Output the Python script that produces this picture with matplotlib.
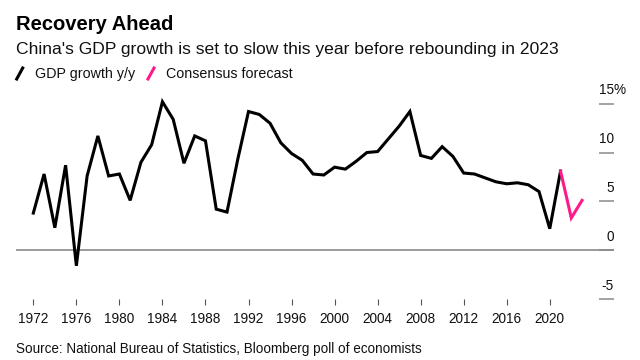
import matplotlib
matplotlib.use("Agg")
import matplotlib.pyplot as plt
from matplotlib.lines import Line2D
import matplotlib.transforms as mtransforms

plt.rcParams['font.family'] = ['Liberation Sans', 'DejaVu Sans']

# ---- data ----
years = list(range(1972, 2022))
gdp_growth = [3.8, 7.8, 2.3, 8.7, -1.6, 7.6, 11.7, 7.6, 7.8, 5.1,
              9.0, 10.8, 15.2, 13.4, 8.9, 11.7, 11.2, 4.2, 3.9, 9.3,
              14.2, 13.9, 13.0, 11.0, 9.9, 9.2, 7.8, 7.7, 8.5, 8.3,
              9.1, 10.0, 10.1, 11.4, 12.7, 14.2, 9.7, 9.4, 10.6, 9.6,
              7.9, 7.8, 7.4, 7.0, 6.8, 6.9, 6.7, 6.0, 2.2, 8.1]
forecast_years = [2021, 2022, 2023]
forecast_values = [8.1, 3.3, 5.1]
x_ticks = list(range(1972, 2021, 4))
y_ticks = [-5, 0, 5, 10, 15]
y_tick_labels = ["-5", "0", "5", "10", "15"]

title = "Recovery Ahead"
subtitle = "China's GDP growth is set to slow this year before rebounding in 2023"
legend_labels = ["GDP growth y/y", "Consensus forecast"]
source = "Source: National Bureau of Statistics, Bloomberg poll of economists"

BLACK = "#000000"
PINK = "#ff1a8c"
GREY = "#8a8a8a"

W, H = 640, 360
fig = plt.figure(figsize=(6.4, 3.6), dpi=100)

def px(x, y):
    return x / W, 1 - y / H

left, right = 16, 614
top, bottom = 103.7, 299
ax = fig.add_axes([left / W, 1 - bottom / H, (right - left) / W, (bottom - top) / H])

ax.plot(years, gdp_growth, color=BLACK, lw=2.2, clip_on=False,
        solid_joinstyle='miter', zorder=3)
ax.plot(forecast_years, forecast_values, color=PINK, lw=2.2, clip_on=False,
        solid_joinstyle='miter', zorder=3)
ax.axhline(0, color=GREY, lw=1.2, zorder=1)

ax.set_xlim(1970.39, 2025.97)
ax.set_ylim(-5, 15)
for s in ax.spines.values():
    s.set_visible(False)

ax.set_xticks(x_ticks)
ax.set_xticklabels([str(y) for y in x_ticks])
ax.tick_params(axis='x', direction='out', length=4.3, width=0.8, color="#555555",
               pad=5, labelsize=9.8, labelcolor="#111111")

ax.yaxis.tick_right()
ax.set_yticks(y_ticks)
ax.tick_params(axis='y', direction='in', length=10.8, width=1.1, color=GREY,
               labelright=False, labelleft=False)

trans = mtransforms.blended_transform_factory(ax.transAxes, ax.transData)
for v, lab in zip(y_ticks, y_tick_labels):
    ax.annotate(lab, xy=(1.0, v), xycoords=trans, xytext=(0, 4.5),
                textcoords='offset points', ha='right', va='bottom',
                fontsize=9.8, color="#111111", annotation_clip=False)
    if v == max(y_ticks):
        ax.annotate("%", xy=(1.0, v), xycoords=trans, xytext=(0, 4.5),
                    textcoords='offset points', ha='left', va='bottom',
                    fontsize=9.8, color="#111111", annotation_clip=False)

# ---- header ----
fig.text(*px(16, 30), title, fontsize=14.5, fontweight='bold', ha='left',
         va='baseline', color="#000000")
fig.text(*px(16, 54), subtitle, fontsize=12.6, ha='left', va='baseline',
         color="#111111")

# legend
fig.add_artist(Line2D([16.7 / W, 22.7 / W], [1 - 79 / H, 1 - 68 / H],
                      color=BLACK, lw=2.2, transform=fig.transFigure))
fig.text(*px(35, 78), legend_labels[0], fontsize=10.3, ha='left', va='baseline',
         color="#111111")
fig.add_artist(Line2D([148 / W, 154 / W], [1 - 79 / H, 1 - 68 / H],
                      color=PINK, lw=2.2, transform=fig.transFigure))
fig.text(*px(166, 78), legend_labels[1], fontsize=10.3, ha='left', va='baseline',
         color="#111111")

fig.text(*px(16, 353), source, fontsize=9.75, ha='left', va='baseline',
         color="#111111")

fig.savefig("out.png", dpi=100, facecolor="white")
